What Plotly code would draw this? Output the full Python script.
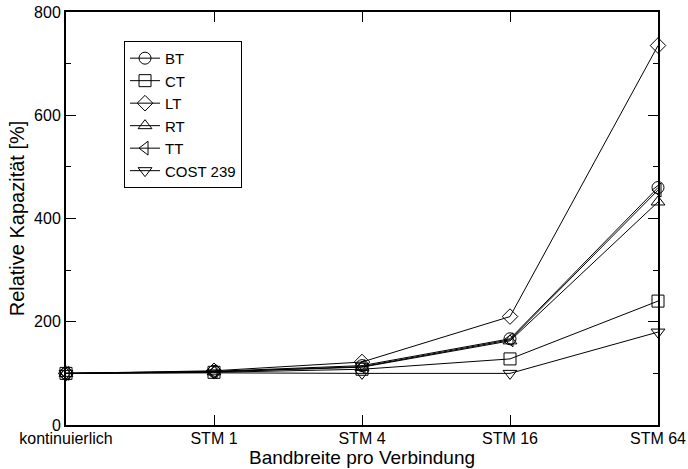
import plotly.graph_objects as go

categories = ["kontinuierlich", "STM 1", "STM 4", "STM 16", "STM 64"]
series_names = ["BT", "CT", "LT", "RT", "TT", "COST 239"]
bt = [100, 104, 115, 167, 460]
ct = [100, 102, 108, 128, 240]
lt = [100, 105, 122, 210, 735]
rt = [100, 103, 112, 163, 432]
tt = [100, 103, 113, 165, 455]
cost = [100, 101, 100, 100, 180]
values = [bt, ct, lt, rt, tt, cost]
symbols = ["circle-open", "square-open", "diamond-open", "triangle-up-open",
           "triangle-left-open", "triangle-down-open"]

x = list(range(len(categories)))
fig = go.Figure()
for name, vals, sym in zip(series_names, values, symbols):
    fig.add_trace(go.Scatter(
        x=x, y=vals, name=name, mode="lines+markers",
        line=dict(color="black", width=1),
        marker=dict(symbol=sym, size=12, color="black", line=dict(width=1, color="black")),
        cliponaxis=False,
    ))

font = "Liberation Sans, Arial, sans-serif"
fig.update_layout(
    width=688, height=469,
    margin=dict(l=66, r=30, t=12, b=44),
    plot_bgcolor="white", paper_bgcolor="white",
    font=dict(family=font, size=16, color="black"),
    showlegend=True,
    legend=dict(x=0.098, y=0.93, xanchor="left", yanchor="top",
                bordercolor="black", borderwidth=1, bgcolor="white",
                font=dict(size=15), tracegroupgap=0),
)
fig.update_xaxes(
    range=[0, 4], tickvals=x, ticktext=categories, automargin=False,
    ticks="inside", ticklen=10, tickcolor="black", ticklabelstandoff=-2,
    showline=True, linecolor="black", linewidth=2, mirror="allticks",
    showgrid=False, zeroline=False,
    title=dict(text="Bandbreite pro Verbindung", font=dict(size=19), standoff=3),
)
fig.update_yaxes(
    range=[0, 800], tickvals=[0, 200, 400, 600, 800], automargin=False,
    ticks="inside", ticklen=10, tickcolor="black",
    minor=dict(tickvals=[100, 300, 500, 700], ticks="inside", ticklen=5, tickcolor="black"),
    showline=True, linecolor="black", linewidth=2, mirror="allticks",
    showgrid=False, zeroline=False,
    title=dict(text="Relative Kapazität [%]", font=dict(size=20), standoff=4),
)
fig.write_html("out.html")
